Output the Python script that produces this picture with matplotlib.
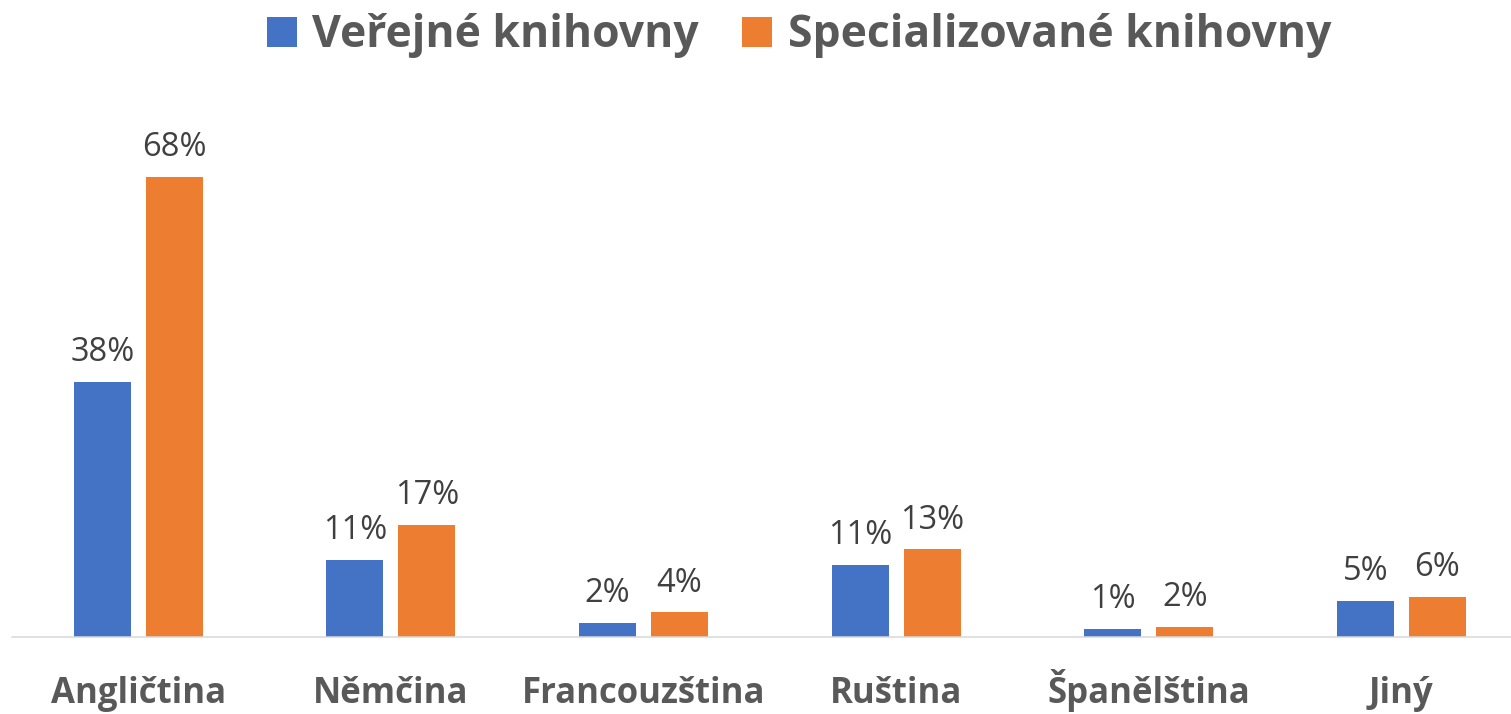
import matplotlib
matplotlib.use('Agg')
import matplotlib.pyplot as plt
import numpy as np

plt.rcParams['font.family'] = ['Open Sans', 'DejaVu Sans']

categories = ['Angličtina', 'Němčina', 'Francouzština', 'Ruština', 'Španělština', 'Jiný']
series_names = ['Veřejné knihovny', 'Specializované knihovny']
verejne = [37.7, 11.3, 2.1, 10.6, 1.2, 5.3]
specializovane = [68.0, 16.5, 3.6, 12.9, 1.5, 5.9]

blue = '#4472C4'
orange = '#ED7D31'
W, H = 1511, 714

fig = plt.figure(figsize=(W / 100, H / 100), dpi=100)
ax = fig.add_axes([12 / W, 77.3 / H, 1515.6 / W, 80 * 6.76 / H])

x = np.arange(len(categories))
bw = 0.2257
off = bw / 2 + 0.0297
b1 = ax.bar(x - off, verejne, bw, color=blue, label=series_names[0])
b2 = ax.bar(x + off, specializovane, bw, color=orange, label=series_names[1])

for bars, vals in ((b1, verejne), (b2, specializovane)):
    for rect, v in zip(bars, vals):
        ax.annotate(f'{int(v + 0.5)}%', (rect.get_x() + rect.get_width() / 2, v),
                    xytext=(0, 15), textcoords='offset points',
                    ha='center', va='baseline', fontsize=23.5, color='#404040')

for i, c in enumerate(categories):
    ax.annotate(c, (i, 0), xycoords=('data', 'axes fraction'),
                xytext=(0, -47.5), textcoords='offset points',
                ha='center', va='baseline', fontsize=25, fontweight='bold',
                color='#595959')

ax.set_xlim(-0.5, len(categories) - 0.5)
ax.set_ylim(0, 80)
ax.set_xticks([])
ax.set_yticks([])
for s in ['top', 'left', 'right']:
    ax.spines[s].set_visible(False)
ax.spines['bottom'].set_color('#D9D9D9')
ax.spines['bottom'].set_linewidth(1.1)

fig.legend(handles=[b1, b2], loc='center', bbox_to_anchor=(799 / W, 1 - 36 / H),
           ncol=2, frameon=False, prop={'size': 32, 'weight': 'bold'},
           labelcolor='#595959', handlelength=0.68, handleheight=0.68,
           handletextpad=0.34, columnspacing=0.97, borderpad=0, borderaxespad=0)

fig.savefig('out.png', dpi=100)
